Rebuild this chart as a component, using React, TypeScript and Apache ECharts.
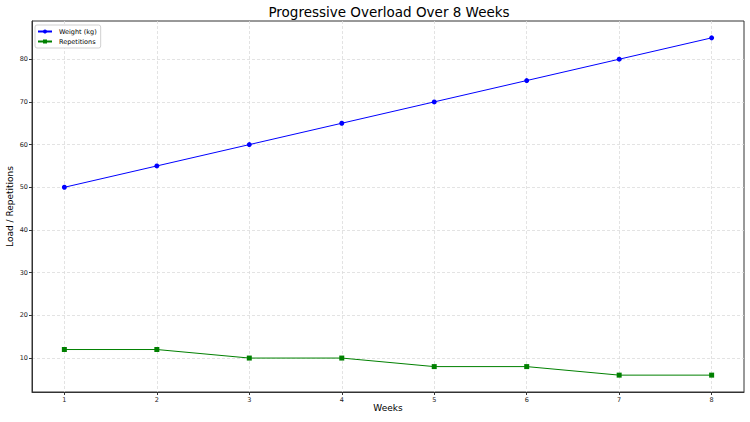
import React, { useEffect, useRef } from "react";
import * as echarts from "echarts";

const weeks = [1, 2, 3, 4, 5, 6, 7, 8];
const weightKg = [50, 55, 60, 65, 70, 75, 80, 85];
const repetitions = [12, 12, 10, 10, 8, 8, 6, 6];
const yTicks = [10, 20, 30, 40, 50, 60, 70, 80];

const FONT = "DejaVu Sans";

export default function App() {
  const ref = useRef<HTMLDivElement>(null);
  useEffect(() => {
    if (!ref.current) return;
    const chart = echarts.init(ref.current, undefined, { renderer: "svg" });
    const pairs = (ys: number[]) => weeks.map((w, i) => [w, ys[i]]);
    chart.setOption({
      animation: false,
      backgroundColor: "#ffffff",
      textStyle: { fontFamily: FONT },
      title: {
        text: "Progressive Overload Over 8 Weeks",
        left: 389,
        top: 5,
        padding: 0,
        textAlign: "center",
        textStyle: { fontFamily: FONT, fontSize: 13.5, fontWeight: "normal", color: "#000" },
      },
      legend: {
        left: 35,
        top: 25,
        orient: "vertical",
        itemWidth: 14,
        itemHeight: 5,
        itemGap: 3,
        padding: [3, 4, 3, 2],
        backgroundColor: "#fff",
        borderColor: "#d0d0d0",
        borderWidth: 1,
        borderRadius: 2,
        textStyle: { fontFamily: FONT, fontSize: 6.5, color: "#000", padding: [0, 0, 0, 2] },
        data: ["Weight (kg)", "Repetitions"],
      },
      grid: {
        left: 32,
        right: 6,
        top: 21,
        bottom: 30,
        show: true,
        borderColor: "#333",
        borderWidth: 1,
        backgroundColor: "transparent",
        containLabel: false,
        outerBoundsMode: "none",
      },
      xAxis: {
        type: "value",
        min: 0.65,
        max: 8.35,
        name: "Weeks",
        nameLocation: "middle",
        nameGap: 11.5,
        nameMoveOverlap: false,
        nameTextStyle: { fontFamily: FONT, fontSize: 9, color: "#000" },
        axisLine: { show: true, onZero: false, lineStyle: { color: "#333", width: 1 } },
        axisTick: { show: true, length: 3, customValues: weeks, lineStyle: { color: "#333" } },
        axisLabel: { customValues: weeks, fontFamily: FONT, fontSize: 6.5, color: "#222", margin: 4 },
        splitLine: { show: true, lineStyle: { color: "#dcdcdc", type: [3, 2], width: 0.8 } },
      },
      yAxis: {
        type: "value",
        min: 2.05,
        max: 88.95,
        name: "Load / Repetitions",
        nameLocation: "middle",
        nameGap: 18,
        nameMoveOverlap: false,
        nameTextStyle: { fontFamily: FONT, fontSize: 9, color: "#000" },
        axisLine: { show: true, onZero: false, lineStyle: { color: "#333", width: 1 } },
        axisTick: { show: true, length: 3, customValues: yTicks, lineStyle: { color: "#333" } },
        axisLabel: { customValues: yTicks, fontFamily: FONT, fontSize: 6.5, color: "#222", margin: 4 },
        splitLine: { show: true, lineStyle: { color: "#dcdcdc", type: [3, 2], width: 0.8 } },
      },
      series: [
        {
          name: "Weight (kg)",
          type: "line",
          data: pairs(weightKg),
          symbol: "circle",
          symbolSize: 5,
          lineStyle: { color: "#0000ff", width: 1 },
          itemStyle: { color: "#0000ff" },
        },
        {
          name: "Repetitions",
          type: "line",
          data: pairs(repetitions),
          symbol: "rect",
          symbolSize: 5,
          lineStyle: { color: "#008000", width: 1 },
          itemStyle: { color: "#008000" },
        },
      ],
    });
    return () => chart.dispose();
  }, []);
  return <div ref={ref} style={{ width: 750, height: 422, position: "absolute", left: 0, top: 0 }} />;
}
